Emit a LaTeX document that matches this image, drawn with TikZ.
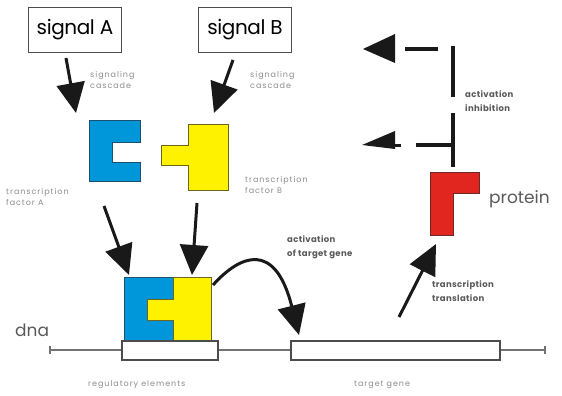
\documentclass[tikz,border=0pt]{standalone}
\usepackage{fontspec}
\setmainfont{Poppins}
\usetikzlibrary{arrows.meta}
\definecolor{tfblue}{RGB}{0,150,218}
\definecolor{tfblueedge}{RGB}{30,80,110}
\definecolor{tfyellow}{RGB}{255,242,0}
\definecolor{tfyellowedge}{RGB}{110,100,30}
\definecolor{protred}{RGB}{224,38,31}
\definecolor{protrededge}{RGB}{110,40,40}
\tikzset{
  sigbox/.style={draw=black!70, line width=1.5pt, fill=white, minimum width=93pt, minimum height=45pt, inner sep=0pt, font=\fontsize{20}{20}\selectfont\addfontfeature{LetterSpace=-2}},
  tiny/.style={text=black!45, font=\fontsize{8}{11}\selectfont\addfontfeature{LetterSpace=12}, anchor=west, align=left, inner sep=0pt},
  mid/.style={text=black!65, font=\bfseries\fontsize{8.5}{14}\selectfont\addfontfeature{LetterSpace=4}, anchor=west, align=left, inner sep=0pt},
  bigarrow/.style={line width=3pt, black!90, -{Triangle[width=28pt,length=30pt]}},
  dnabox/.style={draw=black!70, line width=2.5pt, fill=white},
  dnaline/.style={draw=black!55, line width=1.5pt},
  bar/.style={line width=4pt, black!90},
  blueshape/.style={fill=tfblue, draw=tfblueedge, line width=1pt},
  yellowshape/.style={fill=tfyellow, draw=tfyellowedge, line width=1pt},
  redshape/.style={fill=protred, draw=protrededge, line width=1pt},
}
\begin{document}
\begin{tikzpicture}[x=1pt,y=-1pt]
\useasboundingbox (0,0) rectangle (562,396);
% signal boxes
\node[sigbox] (sA) at (75,30) {signal A};
\node[sigbox] (sB) at (245,30) {signal B};
% signalling cascades
\coordinate (a1s) at (66,58);  \coordinate (a1e) at (76,113);
\coordinate (b1s) at (233,60); \coordinate (b1e) at (214,113);
\draw[bigarrow] (a1s) -- (a1e);
\draw[bigarrow] (b1s) -- (b1e);
\node[tiny] (scA) at (90,80) {signaling\\cascade};
\node[tiny] (scB) at (250,80) {signaling\\cascade};
% transcription factor A
\draw[blueshape] (89,120) -- (140,120) -- (140,142) -- (112,142) -- (112,162) -- (140,162) -- (140,181) -- (89,181) -- cycle;
% transcription factor B
\draw[yellowshape] (188,124) -- (228,124) -- (228,190) -- (188,190) -- (188,165) -- (161,165) -- (161,145) -- (188,145) -- cycle;
\node[tiny] (tfA) at (6,197) {transcription\\factor A};
\node[tiny] (tfB) at (245,185) {transcription\\factor B};
% arrows to complex
\coordinate (a2s) at (104,206); \coordinate (a2e) at (129,275);
\coordinate (b2s) at (197,203); \coordinate (b2e) at (192,275);
\draw[bigarrow] (a2s) -- (a2e);
\draw[bigarrow] (b2s) -- (b2e);
% complex
\draw[blueshape] (124,277) -- (173,277) -- (173,299) -- (147,299) -- (147,320) -- (173,320) -- (173,340) -- (124,340) -- cycle;
\draw[yellowshape] (173,277) -- (211,277) -- (211,340) -- (173,340) -- (173,320) -- (147,320) -- (147,299) -- (173,299) -- cycle;
% dna
\node[inner sep=0pt, anchor=west, text=black!65, font=\fontsize{17}{17}\selectfont] (dna) at (15,330) {dna};
\coordinate (dl) at (50,350); \coordinate (dr) at (545,350);
\draw[dnaline] (dl) -- (dr);
\draw[dnaline] (50,346) -- (50,354);
\draw[dnaline] (545,346) -- (545,354);
\draw[dnabox] (122,341) rectangle (218,360);
\draw[dnabox] (291,341) rectangle (500,360);
\node[tiny] (reg) at (88,385) {regulatory elements};
\node[tiny] (tg) at (354,385) {target gene};
% activation of target gene
\coordinate (cs) at (213,285); \coordinate (ce) at (299,335);
\draw[bigarrow] (cs) .. controls (240,255) and (275,240) .. (ce);
\node[mid] (act) at (287,247) {activation\\of target gene};
% protein
\draw[redshape] (430,172) -- (479,172) -- (479,193) -- (453,193) -- (453,235) -- (430,235) -- cycle;
\node[inner sep=0pt, anchor=west, text=black!65, font=\fontsize{17}{17}\selectfont] (prot) at (489,199) {protein};
% transcription / translation
\coordinate (ts) at (399,317); \coordinate (te) at (436,244);
\draw[bigarrow] (ts) -- (te);
\node[mid] (tt) at (432,291) {transcription\\translation};
% feedback
\draw[bar] (453,46) -- (453,97);
\draw[bar] (405,49) -- (438,49);
\fill[black!90] (363,49) -- (395,34) -- (395,63) -- cycle;
\draw[bar] (453,113) -- (453,167);
\draw[bar] (416,145) -- (455,145);
\fill[black!90] (362,145) -- (395,131) -- (395,149) -- cycle;
\draw[line width=3pt, black!90] (394,145) -- (401,145);
\node[mid] (ai) at (465,101) {activation\\inhibition};
\end{tikzpicture}
\end{document}
